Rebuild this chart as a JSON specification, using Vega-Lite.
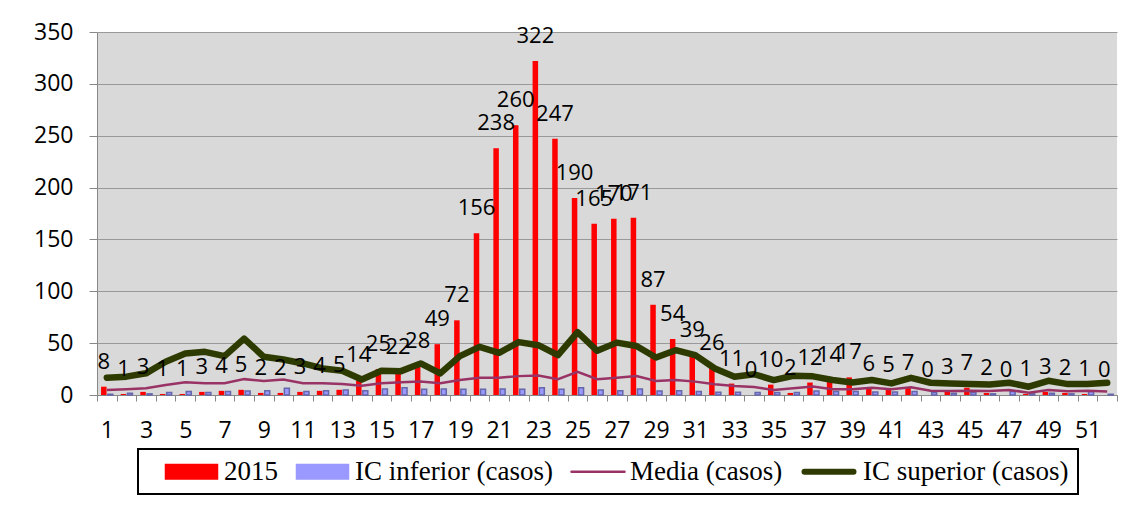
{
  "$schema": "https://vega.github.io/schema/vega-lite/v6.json",
  "width": 1020,
  "height": 363,
  "autosize": {"type": "none"},
  "padding": {"left": 97, "top": 32, "right": 21, "bottom": 117},
  "background": "white",
  "config": {"view": {"fill": "#d9d9d9", "stroke": null}, "font": "Open Sans"},
  "data": {"values": [
    {"semana":1,"2015":8,"IC inferior (casos)":0.7,"Media (casos)":4.9,"IC superior (casos)":16.7},
    {"semana":2,"2015":1,"IC inferior (casos)":1.7,"Media (casos)":5.5,"IC superior (casos)":17.7},
    {"semana":3,"2015":3,"IC inferior (casos)":1.1,"Media (casos)":6.5,"IC superior (casos)":20.9},
    {"semana":4,"2015":1,"IC inferior (casos)":2.3,"Media (casos)":9.7,"IC superior (casos)":32},
    {"semana":5,"2015":1,"IC inferior (casos)":3.3,"Media (casos)":12.2,"IC superior (casos)":40},
    {"semana":6,"2015":3,"IC inferior (casos)":2.3,"Media (casos)":11.3,"IC superior (casos)":41.6},
    {"semana":7,"2015":4,"IC inferior (casos)":3.3,"Media (casos)":11.3,"IC superior (casos)":37.5},
    {"semana":8,"2015":5,"IC inferior (casos)":3.9,"Media (casos)":15.3,"IC superior (casos)":54.4},
    {"semana":9,"2015":2,"IC inferior (casos)":4.2,"Media (casos)":13.5,"IC superior (casos)":36.8},
    {"semana":10,"2015":2,"IC inferior (casos)":6.5,"Media (casos)":15,"IC superior (casos)":34.2},
    {"semana":11,"2015":3,"IC inferior (casos)":3.3,"Media (casos)":11.3,"IC superior (casos)":30.4},
    {"semana":12,"2015":4,"IC inferior (casos)":4.2,"Media (casos)":11.3,"IC superior (casos)":25.6},
    {"semana":13,"2015":5,"IC inferior (casos)":4.9,"Media (casos)":10.6,"IC superior (casos)":23.4},
    {"semana":14,"2015":14,"IC inferior (casos)":4.2,"Media (casos)":9,"IC superior (casos)":15},
    {"semana":15,"2015":25,"IC inferior (casos)":5.8,"Media (casos)":11.3,"IC superior (casos)":23.4},
    {"semana":16,"2015":22,"IC inferior (casos)":7,"Media (casos)":12.2,"IC superior (casos)":23},
    {"semana":17,"2015":28,"IC inferior (casos)":5.5,"Media (casos)":12.9,"IC superior (casos)":30.4},
    {"semana":18,"2015":49,"IC inferior (casos)":5.8,"Media (casos)":11.3,"IC superior (casos)":20.8},
    {"semana":19,"2015":72,"IC inferior (casos)":5.5,"Media (casos)":14.5,"IC superior (casos)":37.5},
    {"semana":20,"2015":156,"IC inferior (casos)":5.5,"Media (casos)":16.6,"IC superior (casos)":46.4},
    {"semana":21,"2015":238,"IC inferior (casos)":5.8,"Media (casos)":16.6,"IC superior (casos)":40.7},
    {"semana":22,"2015":260,"IC inferior (casos)":5.5,"Media (casos)":18.2,"IC superior (casos)":51},
    {"semana":23,"2015":322,"IC inferior (casos)":7,"Media (casos)":18.9,"IC superior (casos)":48},
    {"semana":24,"2015":247,"IC inferior (casos)":5.5,"Media (casos)":15.3,"IC superior (casos)":38.4},
    {"semana":25,"2015":190,"IC inferior (casos)":7,"Media (casos)":22.4,"IC superior (casos)":60.6},
    {"semana":26,"2015":165,"IC inferior (casos)":4.9,"Media (casos)":15.3,"IC superior (casos)":42.6},
    {"semana":27,"2015":170,"IC inferior (casos)":4.2,"Media (casos)":16.6,"IC superior (casos)":50.5},
    {"semana":28,"2015":171,"IC inferior (casos)":5.8,"Media (casos)":18.2,"IC superior (casos)":47.3},
    {"semana":29,"2015":87,"IC inferior (casos)":3.9,"Media (casos)":13.5,"IC superior (casos)":36.2},
    {"semana":30,"2015":54,"IC inferior (casos)":4.2,"Media (casos)":14.5,"IC superior (casos)":43.2},
    {"semana":31,"2015":39,"IC inferior (casos)":3.3,"Media (casos)":12.9,"IC superior (casos)":38.4},
    {"semana":32,"2015":26,"IC inferior (casos)":2.6,"Media (casos)":10.3,"IC superior (casos)":25.6},
    {"semana":33,"2015":11,"IC inferior (casos)":2.6,"Media (casos)":8.7,"IC superior (casos)":17.6},
    {"semana":34,"2015":0,"IC inferior (casos)":2.3,"Media (casos)":7.7,"IC superior (casos)":20},
    {"semana":35,"2015":10,"IC inferior (casos)":2.3,"Media (casos)":4.9,"IC superior (casos)":14.4},
    {"semana":36,"2015":2,"IC inferior (casos)":2.3,"Media (casos)":6.5,"IC superior (casos)":18.6},
    {"semana":37,"2015":12,"IC inferior (casos)":3.9,"Media (casos)":8.1,"IC superior (casos)":18},
    {"semana":38,"2015":14,"IC inferior (casos)":3.3,"Media (casos)":5.5,"IC superior (casos)":14.4},
    {"semana":39,"2015":17,"IC inferior (casos)":3.3,"Media (casos)":5.5,"IC superior (casos)":12.1},
    {"semana":40,"2015":6,"IC inferior (casos)":2.9,"Media (casos)":7,"IC superior (casos)":14.4},
    {"semana":41,"2015":5,"IC inferior (casos)":2.9,"Media (casos)":5.5,"IC superior (casos)":11.2},
    {"semana":42,"2015":7,"IC inferior (casos)":3.3,"Media (casos)":7.4,"IC superior (casos)":16.6},
    {"semana":43,"2015":0,"IC inferior (casos)":2.3,"Media (casos)":4.2,"IC superior (casos)":11.8},
    {"semana":44,"2015":3,"IC inferior (casos)":1.7,"Media (casos)":3.9,"IC superior (casos)":11.2},
    {"semana":45,"2015":7,"IC inferior (casos)":2.3,"Media (casos)":4.2,"IC superior (casos)":10.5},
    {"semana":46,"2015":2,"IC inferior (casos)":1.1,"Media (casos)":3.9,"IC superior (casos)":10.2},
    {"semana":47,"2015":0,"IC inferior (casos)":3.3,"Media (casos)":4.9,"IC superior (casos)":11.8},
    {"semana":48,"2015":1,"IC inferior (casos)":1.1,"Media (casos)":2.3,"IC superior (casos)":8},
    {"semana":49,"2015":3,"IC inferior (casos)":1.7,"Media (casos)":4.9,"IC superior (casos)":13.7},
    {"semana":50,"2015":2,"IC inferior (casos)":1.1,"Media (casos)":3.6,"IC superior (casos)":10.5},
    {"semana":51,"2015":1,"IC inferior (casos)":3.3,"Media (casos)":4.2,"IC superior (casos)":10.5},
    {"semana":52,"2015":0,"IC inferior (casos)":0.7,"Media (casos)":3.3,"IC superior (casos)":11.8}
  ]},
  "transform": [
    {"fold": ["2015", "IC inferior (casos)", "Media (casos)", "IC superior (casos)"], "as": ["serie", "casos"]}
  ],
  "encoding": {
    "x": {
      "field": "semana", "type": "ordinal",
      "scale": {"paddingInner": 0, "paddingOuter": 0},
      "axis": {
        "title": null, "labelAngle": 0, "tickBand": "extent",
        "labelExpr": "datum.value % 2 == 1 ? datum.label : ''",
        "labelFont": "Open Sans", "labelFontSize": 23, "labelColor": "black",
        "tickSize": 6, "tickColor": "#888888", "domainColor": "#888888",
        "labelPadding": 18, "grid": false, "labelOverlap": false
      }
    },
    "y": {
      "field": "casos", "type": "quantitative",
      "scale": {"domain": [0, 350], "nice": false},
      "axis": {
        "title": null, "values": [0, 50, 100, 150, 200, 250, 300, 350],
        "grid": true, "gridColor": "#999999", "tickSize": 8,
        "tickColor": "#888888", "domainColor": "#888888",
        "labelFont": "Open Sans", "labelFontSize": 23, "labelColor": "black",
        "labelPadding": 16
      }
    }
  },
  "layer": [
    {
      "transform": [{"filter": "datum.serie == '2015'"}],
      "mark": {"type": "bar", "width": 5.5, "xOffset": -3},
      "encoding": {
        "y": {"field": "casos", "type": "quantitative", "stack": null},
        "color": {
          "field": "serie", "type": "nominal",
          "scale": {
            "domain": ["2015", "IC inferior (casos)", "Media (casos)", "IC superior (casos)"],
            "range": ["#ff0000", "#9999ff", "#993366", "#2e3b00"]
          },
          "legend": {
            "orient": "none", "legendX": 41, "legendY": 417,
            "direction": "horizontal", "columns": 4, "title": null,
            "labelFont": "Liberation Serif", "labelFontSize": 27, "labelColor": "black",
            "labelLimit": 0, "symbolSize": 400, "labelOffset": 50,
            "columnPadding": -6, "padding": 9,
            "strokeColor": "black", "fillColor": "white",
            "encode": {
              "legend": {"update": {"strokeWidth": {"value": 2}}},
              "symbols": {"update": {
                "shape": {"signal": "datum.value == '2015' || datum.value == 'IC inferior (casos)' ? 'M-1,0M0.5,-0.73H5.7V0.73H0.5Z' : (datum.value == 'Media (casos)' ? 'M-1,0M0.5,0H5.8' : 'M-1,0M0.5,0H5.4')"},
                "fill": {"signal": "datum.value == '2015' ? '#ff0000' : (datum.value == 'IC inferior (casos)' ? '#9999ff' : 'transparent')"},
                "stroke": {"signal": "datum.value == '2015' ? 'transparent' : (datum.value == 'IC inferior (casos)' ? '#6666aa' : (datum.value == 'Media (casos)' ? '#993366' : '#2e3b00'))"},
                "strokeWidth": {"signal": "datum.value == 'IC superior (casos)' ? 6 : (datum.value == 'Media (casos)' ? 2.5 : 1.5)"},
                "strokeCap": {"value": "round"},
                "opacity": {"value": 1}
              }}
            }
          }
        }
      }
    },
    {
      "transform": [{"filter": "datum.serie == 'IC inferior (casos)'"}],
      "mark": {"type": "bar", "width": 5, "xOffset": 3.5, "stroke": "#6666aa", "strokeWidth": 1.5},
      "encoding": {
        "y": {"field": "casos", "type": "quantitative", "stack": null},
        "color": {"field": "serie", "type": "nominal"}
      }
    },
    {
      "transform": [{"filter": "datum.serie == 'Media (casos)'"}],
      "mark": {"type": "line", "strokeWidth": 2.5},
      "encoding": {
        "color": {"field": "serie", "type": "nominal"}
      }
    },
    {
      "transform": [{"filter": "datum.serie == 'IC superior (casos)'"}],
      "mark": {"type": "line", "strokeWidth": 6.5, "strokeCap": "round", "strokeJoin": "round"},
      "encoding": {
        "color": {"field": "serie", "type": "nominal"}
      }
    },
    {
      "transform": [{"filter": "datum.serie == '2015'"}],
      "mark": {"type": "text", "dy": -18, "xOffset": -3, "baseline": "alphabetic", "align": "center", "font": "Open Sans", "fontSize": 22, "color": "black"},
      "encoding": {
        "text": {"field": "casos", "type": "quantitative"}
      }
    }
  ]
}
